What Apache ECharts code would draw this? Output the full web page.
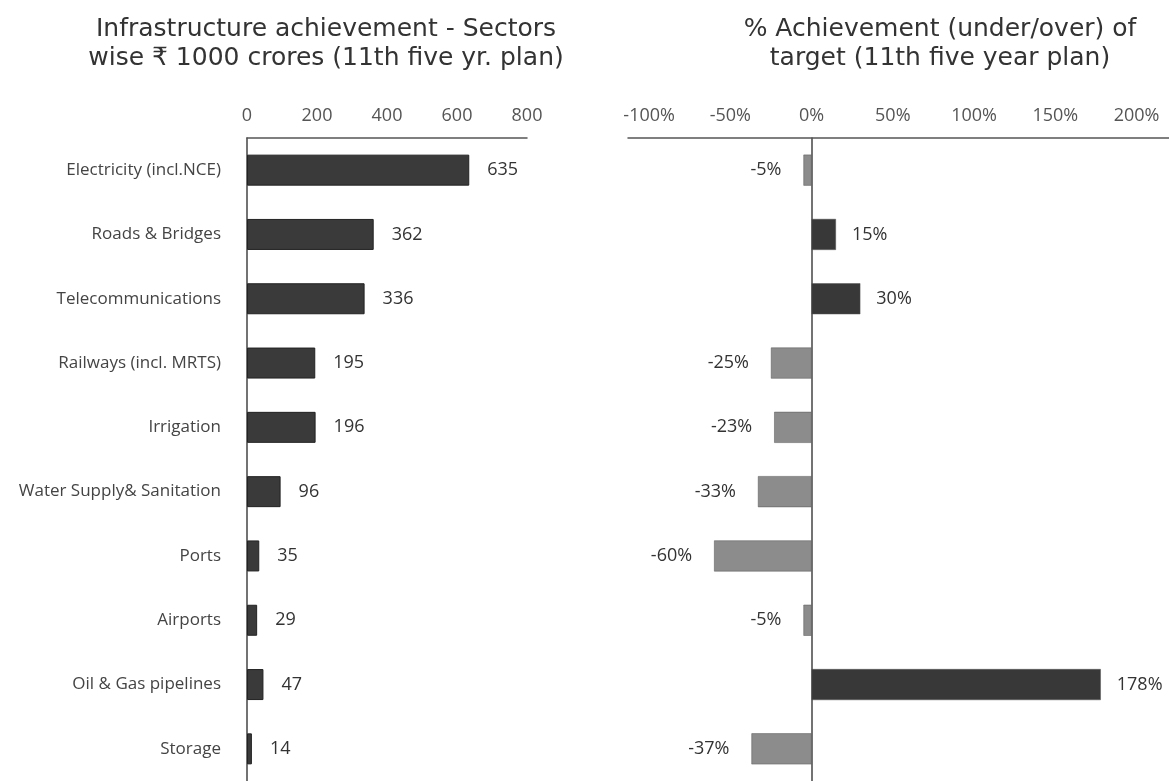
<!DOCTYPE html>
<html>
<head>
<meta charset="utf-8">
<script src="https://cdn.jsdelivr.net/npm/echarts@6/dist/echarts.min.js"></script>
<style>
  html, body { margin: 0; padding: 0; background: #fff; }
  #chart { width: 1169px; height: 781px; }
</style>
</head>
<body>
<div id="chart"></div>
<script>
// sectors, top to bottom
var sectors = [
    'Electricity (incl.NCE)',
    'Roads & Bridges',
    'Telecommunications',
    'Railways (incl. MRTS)',
    'Irrigation',
    'Water Supply& Sanitation',
    'Ports',
    'Airports',
    'Oil & Gas pipelines',
    'Storage'
];
// achievement, Rs 1000 crores
var achieved = [635, 362, 336, 195, 196, 96, 35, 29, 47, 14];
// % under/over target
var vsTarget = [-5, 15, 30, -25, -23, -33, -60, -5, 178, -37];
var pctTicks = [-100, -50, 0, 50, 100, 150, 200];

var chartDom = document.getElementById('chart');
var myChart = echarts.init(chartDom);
var option;

var labelFont = '"Open Sans", "Noto Sans", sans-serif';
var titleStyle = {
    fontFamily: '"DejaVu Sans", sans-serif',
    fontWeight: 'normal',
    fontSize: 25,
    lineHeight: 29,
    color: '#333'
};

option = {
    backgroundColor: '#fff',
    animation: false,
    title: [
        {
            text: 'Infrastructure achievement - Sectors\nwise \u20b9 1000 crores (11th five yr. plan)',
            left: 321,
            top: 10,
            textAlign: 'center',
            textStyle: titleStyle
        },
        {
            text: '% Achievement (under/over) of\ntarget (11th five year plan)',
            left: 935,
            top: 10,
            textAlign: 'center',
            textStyle: titleStyle
        }
    ],
    grid: [
        { left: 247, top: 138, width: 280, height: 644 },
        { left: 628, top: 138, width: 543, height: 644 }
    ],
    xAxis: [
        {
            gridIndex: 0,
            type: 'value',
            position: 'top',
            min: 0,
            max: 800,
            interval: 200,
            splitLine: { show: false },
            axisTick: { show: false },
            axisLine: { show: true, lineStyle: { color: '#555', width: 1.5 } },
            axisLabel: { margin: 13, fontSize: 18, color: '#555', fontFamily: labelFont }
        },
        {
            gridIndex: 1,
            type: 'value',
            position: 'top',
            min: -113,
            max: 220,
            splitLine: { show: false },
            axisTick: { show: false },
            axisLine: { show: true, lineStyle: { color: '#555', width: 1.5 } },
            axisLabel: {
                customValues: pctTicks,
                formatter: '{value}%',
                margin: 13,
                fontSize: 18,
                color: '#555',
                fontFamily: labelFont
            }
        }
    ],
    yAxis: [
        {
            gridIndex: 0,
            type: 'category',
            inverse: true,
            data: sectors,
            axisTick: { show: false },
            axisLine: { show: true, lineStyle: { color: '#444', width: 1.5 } },
            axisLabel: { margin: 26, fontSize: 17, color: '#444', fontFamily: labelFont }
        },
        {
            gridIndex: 1,
            type: 'category',
            inverse: true,
            data: sectors,
            axisTick: { show: false },
            axisLine: { show: true, onZero: true, lineStyle: { color: '#444', width: 1.5 } },
            axisLabel: { show: false }
        }
    ],
    series: [
        {
            type: 'bar',
            xAxisIndex: 0,
            yAxisIndex: 0,
            barWidth: 31,
            data: achieved,
            itemStyle: { color: '#3a3a3a', borderColor: '#222', borderWidth: 1 },
            label: {
                show: true,
                position: 'right',
                distance: 18,
                fontSize: 18,
                color: '#333',
                fontFamily: labelFont
            }
        },
        {
            type: 'bar',
            xAxisIndex: 1,
            yAxisIndex: 1,
            barWidth: 31,
            data: vsTarget.map(function (v) {
                return {
                    value: v,
                    itemStyle: { color: v < 0 ? '#8c8c8c' : '#383838' },
                    label: { position: v < 0 ? 'left' : 'right', distance: v < 0 ? 22 : 16 }
                };
            }),
            itemStyle: { borderColor: '#555', borderWidth: 0.5 },
            label: {
                show: true,
                formatter: '{c}%',
                fontSize: 18,
                color: '#333',
                fontFamily: labelFont
            }
        }
    ]
};

option && myChart.setOption(option);
</script>
</body>
</html>
